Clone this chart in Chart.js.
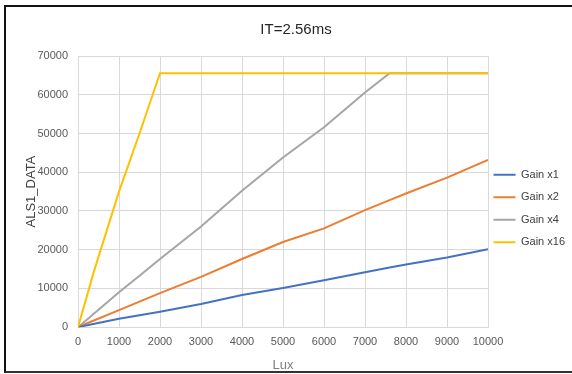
<!DOCTYPE html>
<html>
<head>
<meta charset="utf-8">
<script src="https://cdn.jsdelivr.net/npm/chart.js@4"></script>
<style>
    html, body { margin: 0; padding: 0; background: #fff; overflow: hidden; }
    #wrap { position: relative; width: 572px; height: 374px; overflow: hidden; }
    #frame {
        position: absolute; left: 4px; top: 5px; width: 620px; height: 368px;
        border-top: 2px solid #111; border-left: 2px solid #111; border-bottom: 2px solid #333; border-right: none;
        box-sizing: border-box; pointer-events: none;
    }
    canvas { position: absolute; left: 0; top: 0; }
</style>
</head>
<body>
<div id="wrap">
    <canvas id="chart" width="572" height="374"></canvas>
    <div id="frame"></div>
</div>
<script>
const luxValues = [0, 400, 1000, 1500, 2000, 3000, 4000, 5000, 6000, 7000, 7600, 8000, 9000, 10000];
const gainX1 = [0, 900, 2200, 3100, 4000, 6000, 8300, 10100, 12100, 14200, 15400, 16200, 18000, 20100];
const gainX2 = [0, 1800, 4400, 6600, 8800, 13000, 17600, 22000, 25500, 30200, 32800, 34500, 38600, 43200];
const gainX4 = [0, 3600, 9000, 13300, 17600, 26000, 35200, 43800, 51600, 60600, 65535, 65535, 65535, 65535];
const gainX16 = [0, 14800, 35000, 50000, 65535, 65535, 65535, 65535, 65535, 65535, 65535, 65535, 65535, 65535];
const seriesNames = ["Gain x1", "Gain x2", "Gain x4", "Gain x16"];
const seriesColors = ["#4472C4", "#ED7D31", "#A5A5A5", "#FFC000"];

const font = "'Liberation Sans', Arial, sans-serif";

function toPoints(values) {
    return values.map((v, i) => ({ x: luxValues[i], y: v }));
}

const datasets = [gainX1, gainX2, gainX4, gainX16].map((vals, i) => ({
    label: seriesNames[i],
    data: toPoints(vals),
    borderColor: seriesColors[i],
    backgroundColor: seriesColors[i],
    borderWidth: 2,
    pointRadius: 0,
    pointStyle: "line",
    tension: 0,
    order: i === 3 ? 0 : 1,
}));

// legend: fixed width, nudged down and a bit left like the original
const legendTweak = {
    id: "legendTweak",
    beforeLayout(chart) {
        const lg = chart.legend;
        if (lg && !lg._fixedFit) {
            const fit = lg.fit.bind(lg);
            lg.fit = function () {
                fit();
                this.width = 84;
            };
            lg._fixedFit = true;
        }
    },
    afterLayout(chart) {
        const lg = chart.legend;
        lg.top += 16;
        lg.bottom += 16;
        lg.left -= 6;
        lg.right -= 6;
    },
};

new Chart(document.getElementById("chart"), {
    type: "line",
    data: { datasets },
    plugins: [legendTweak],
    options: {
        responsive: false,
        animation: false,
        layout: { padding: { left: 20, right: 0, top: 12, bottom: 1 } },
        scales: {
            x: {
                type: "linear",
                min: 0,
                max: 10000,
                ticks: {
                    stepSize: 1000,
                    maxRotation: 0,
                    color: "#595959",
                    font: { family: font, size: 11 },
                    padding: 8,
                    callback: (v) => String(v),
                },
                grid: { color: "#d9d9d9", lineWidth: 1, drawTicks: false },
                border: { color: "#d9d9d9" },
                title: { display: true, text: "Lux", color: "#7f7f7f", font: { family: font, size: 13 }, padding: { top: 1, bottom: 0 } },
            },
            y: {
                min: 0,
                max: 70000,
                ticks: {
                    stepSize: 10000,
                    color: "#595959",
                    font: { family: font, size: 11 },
                    padding: 10,
                    callback: (v) => String(v),
                },
                grid: { color: "#d9d9d9", lineWidth: 1, drawTicks: false },
                border: { color: "#d9d9d9" },
                title: { display: true, text: "ALS1_DATA", color: "#404040", font: { family: font, size: 13 } },
                afterFit: (scale) => { scale.width = 58; },
            },
        },
        plugins: {
            title: {
                display: true,
                text: "IT=2.56ms",
                color: "#262626",
                font: { family: font, size: 15, weight: "normal" },
                padding: { top: 9, bottom: 17 },
            },
            legend: {
                position: "right",
                labels: {
                    usePointStyle: true,
                    pointStyleWidth: 22,
                    color: "#404040",
                    font: { family: font, size: 11 },
                    padding: 11.5,
                    sort: (a, b) => a.datasetIndex - b.datasetIndex,
                },
            },
            tooltip: { enabled: false },
        },
    },
});
</script>
</body>
</html>
